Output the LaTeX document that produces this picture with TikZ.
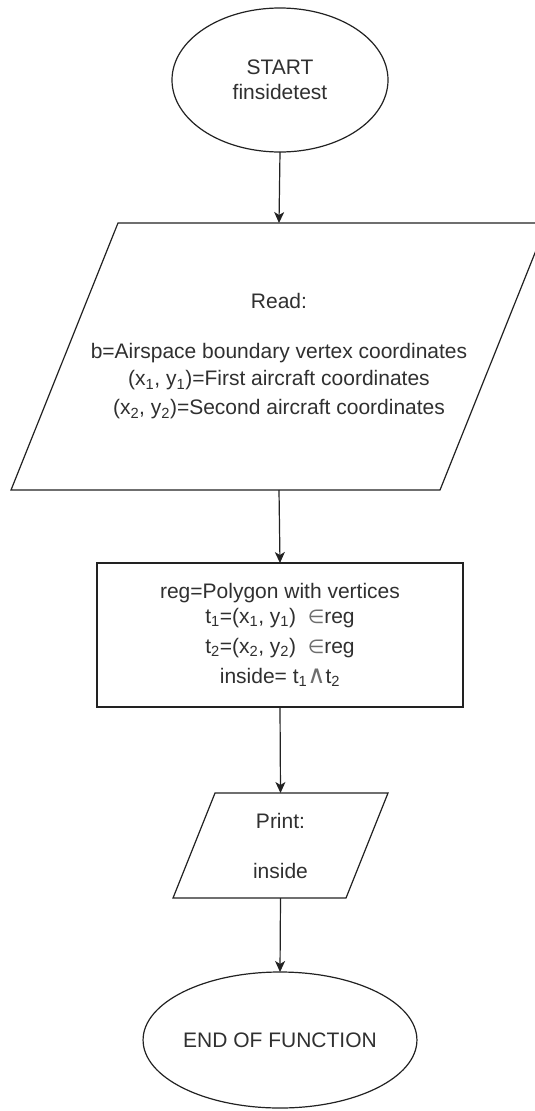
\documentclass[tikz,border=0pt]{standalone}
\usepackage{fontspec}
\setmainfont{Liberation Sans}
\newfontfamily\symfont{DejaVu Sans}
\usetikzlibrary{shapes.geometric,arrows.meta}
\definecolor{txt}{HTML}{303030}
\definecolor{ln}{HTML}{222222}
\begin{document}
\begin{tikzpicture}[x=1pt,y=-1pt,
  every node/.style={font=\fontsize{21}{25}\selectfont, text=txt, align=center, inner sep=0pt, outer sep=0pt},
  oval/.style={ellipse, draw=ln, line width=1.2pt, fill=white},
  procbox/.style={rectangle, draw=ln, line width=1.2pt, fill=white},
  iobox/.style={rectangle},
  shapeline/.style={draw=ln, line width=1.2pt},
  flow/.style={draw=ln, line width=1.2pt, -{Stealth[length=11pt,width=10pt,inset=3pt]}}]
\useasboundingbox (0,0) rectangle (535,1111);
\fill[white] (0,0) rectangle (535,1111);

\node[oval, minimum width=216, minimum height=144] (start) at (280,80) {START\\finsidetest};

\node[iobox, minimum width=536, minimum height=267] (read) at (279,356.5) {};
\draw[shapeline] (read.south west) -- ([xshift=107pt]read.north west) -- (read.north east) -- ([xshift=-107pt]read.south east) -- cycle;
\node (readtxt) at (read.center) {Read:\\[25pt]b=Airspace boundary vertex coordinates\\[2pt](x\textsubscript{1}, y\textsubscript{1})=First aircraft coordinates\\[4pt](x\textsubscript{2}, y\textsubscript{2})=Second aircraft coordinates};

\node[procbox, minimum width=366, minimum height=144] (reg) at (280,635) {reg=Polygon with vertices\\[0pt]t\textsubscript{1}=(x\textsubscript{1}, y\textsubscript{1})\ \ {\symfont\color{txt!70}\fontsize{19}{25}\selectfont ∈}reg\\[5pt]t\textsubscript{2}=(x\textsubscript{2}, y\textsubscript{2})\ \ {\symfont\color{txt!70}\fontsize{19}{25}\selectfont ∈}reg\\[5pt]inside= t\textsubscript{1}{\symfont\color{txt!70}\fontsize{25}{25}\selectfont ∧}t\textsubscript{2}};

\node[iobox, minimum width=215, minimum height=105] (print) at (280.5,845.5) {};
\draw[shapeline] (print.south west) -- ([xshift=42pt]print.north west) -- (print.north east) -- ([xshift=-42pt]print.south east) -- cycle;
\node (printtxt) at (print.center) {Print:\\[25pt]inside};

\node[oval, minimum width=216, minimum height=136] (stop) at (280,1040) {END OF FUNCTION};

\draw[flow] (start.south) -- (read.north);
\draw[flow] (read.south) -- (reg.north);
\draw[flow] (reg.south) -- (print.north);
\draw[flow] (print.south) -- (stop.north);
\end{tikzpicture}
\end{document}
